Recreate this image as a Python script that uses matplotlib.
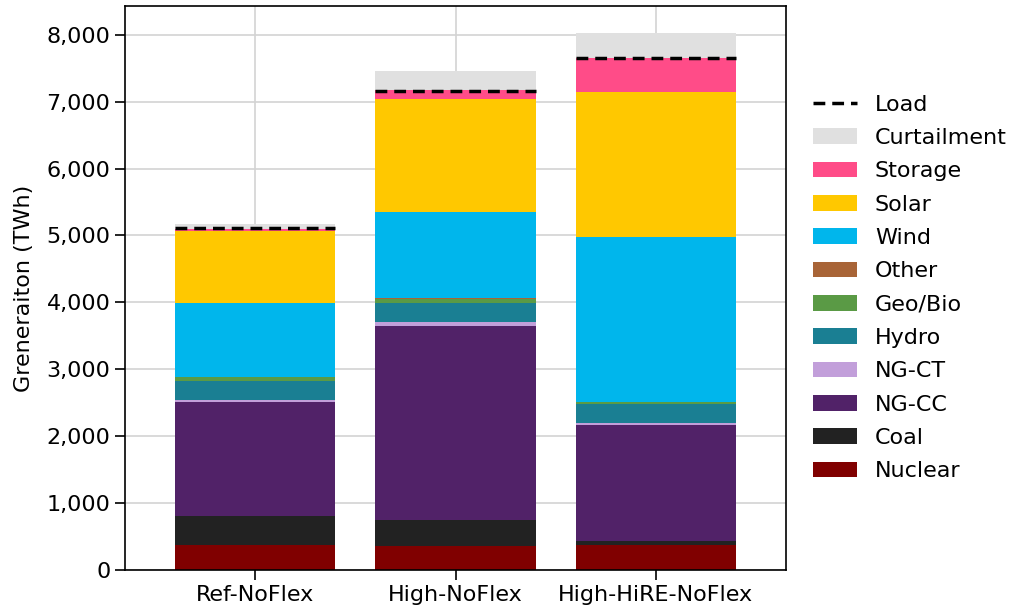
import numpy as np
import matplotlib
matplotlib.use("Agg")
import matplotlib.pyplot as plt
from matplotlib.ticker import FuncFormatter, MultipleLocator
from matplotlib.lines import Line2D

scenarios = ["Ref-NoFlex", "High-NoFlex", "High-HiRE-NoFlex"]

# stacking order, bottom to top (TWh)
nuclear = [374, 364, 380]
coal = [429, 389, 48]
ng_cc = [1706, 2897, 1738]
ng_ct = [25, 56, 32]
hydro = [284, 283, 278]
geo_bio = [65, 66, 32]
other = [5, 5, 5]
wind = [1102, 1294, 2466]
solar = [1072, 1688, 2171]
storage = [40, 127, 497]
curtailment = [65, 288, 380]
load = [5115, 7165, 7655]

series = [
    ("Nuclear", nuclear, "#800000"),
    ("Coal", coal, "#222222"),
    ("NG-CC", ng_cc, "#512268"),
    ("NG-CT", ng_ct, "#C29FDA"),
    ("Hydro", hydro, "#1A7F93"),
    ("Geo/Bio", geo_bio, "#5A9A45"),
    ("Other", other, "#A86437"),
    ("Wind", wind, "#00B6EC"),
    ("Solar", solar, "#FFC800"),
    ("Storage", storage, "#FF4C88"),
    ("Curtailment", curtailment, "#E0E0E0"),
]

plt.rcParams["font.size"] = 16

fig = plt.figure(figsize=(10.13, 6.08), dpi=100)
ax = fig.add_axes([0.1234, 0.0625, 0.6526, 0.9276])

x = np.arange(len(scenarios))
width = 0.8
bottom = np.zeros(len(scenarios))
handles = []
for name, vals, col in series:
    vals = np.array(vals, dtype=float)
    b = ax.bar(x, vals, width, bottom=bottom, color=col, label=name, zorder=2)
    handles.append(b)
    bottom += vals

dash = (0, (3.4, 2.0))
ax.hlines(load, x - width / 2, x + width / 2, colors="black",
          linestyles=dash, linewidth=2.5, zorder=3)
load_handle = Line2D([], [], color="black", linestyle=dash, linewidth=2.5)

ax.set_xlim(-0.65, 2.65)
ax.set_ylim(0, bottom.max() * 1.05)
ax.set_xticks(x)
ax.set_xticklabels(scenarios)
ax.yaxis.set_major_locator(MultipleLocator(1000))
ax.yaxis.set_major_formatter(FuncFormatter(lambda v, p: f"{int(v):,}"))
ax.set_ylabel("Greneraiton (TWh)", labelpad=9)
ax.grid(True, color="#d3d3d3", linewidth=1.2, zorder=0)
ax.set_axisbelow(True)
ax.tick_params(length=7, width=1.2)
for s in ax.spines.values():
    s.set_linewidth(1.2)

leg_handles = [load_handle] + handles[::-1]
leg_labels = ["Load"] + [s[0] for s in series[::-1]]
ax.legend(leg_handles, leg_labels, loc="center left", bbox_to_anchor=(1.01, 0.5),
          frameon=False, labelspacing=0.6)

fig.savefig("out.png", dpi=100)
